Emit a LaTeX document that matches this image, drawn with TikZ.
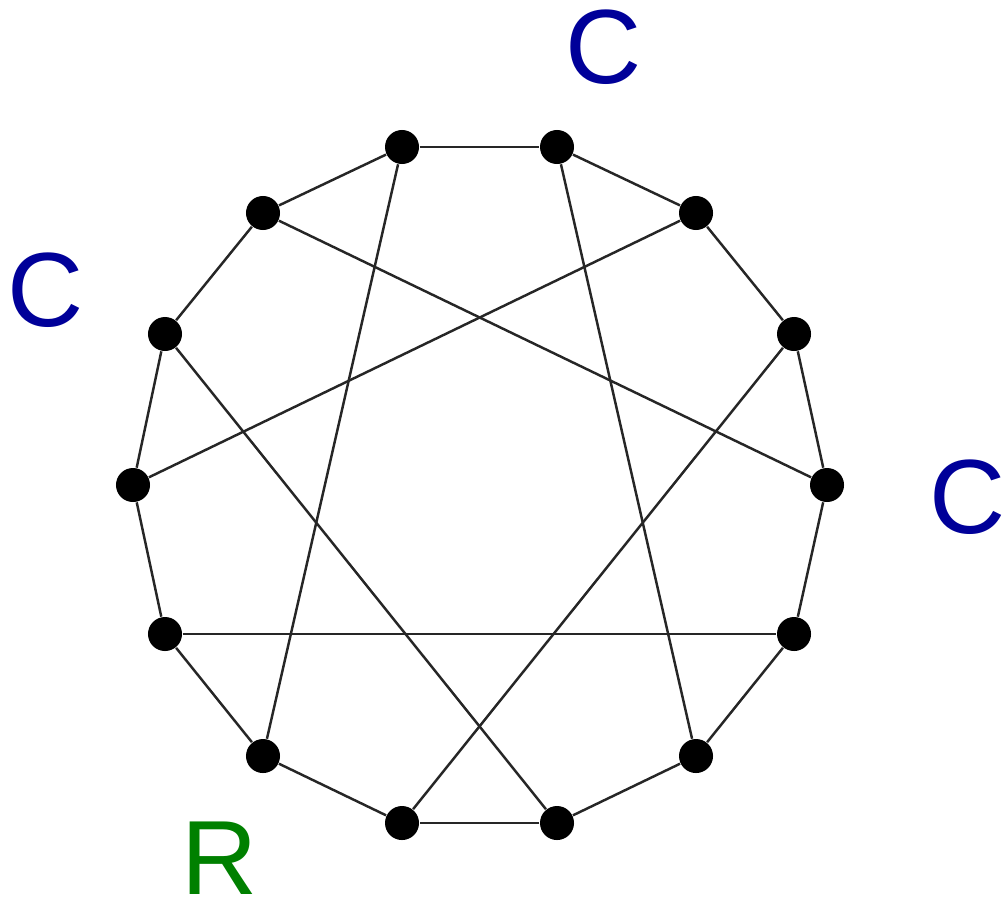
\documentclass[tikz,border=0pt]{standalone}
\usepackage{fontspec}
\setmainfont{Liberation Sans}
\definecolor{cblue}{RGB}{0,0,153}
\definecolor{rgreen}{RGB}{0,128,0}
\begin{document}
\begin{tikzpicture}[x=0.01cm,y=-0.01cm,
  vtx/.style={circle,fill=black,inner sep=0pt,minimum size=0.34cm},
  edge/.style={line width=0.7pt,draw=black!85},
  lab/.style={font=\fontsize{30}{32}\selectfont,inner sep=0pt}]
\useasboundingbox (0,0) rectangle (1004,903);
\node[vtx] (v1) at (402,147) {};
\node[vtx] (v2) at (557,147) {};
\node[vtx] (v3) at (696,213) {};
\node[vtx] (v4) at (794,334) {};
\node[vtx] (v5) at (827,485) {};
\node[vtx] (v6) at (794,634) {};
\node[vtx] (v7) at (696,756) {};
\node[vtx] (v8) at (557,823) {};
\node[vtx] (v9) at (402,823) {};
\node[vtx] (v10) at (263,756) {};
\node[vtx] (v11) at (165,634) {};
\node[vtx] (v12) at (133,485) {};
\node[vtx] (v13) at (165,334) {};
\node[vtx] (v14) at (263,213) {};
\foreach \a/\b in {v1/v2,v2/v3,v3/v4,v4/v5,v5/v6,v6/v7,v7/v8,v8/v9,v9/v10,v10/v11,v11/v12,v12/v13,v13/v14,v14/v1,
  v1/v10,v2/v7,v3/v12,v14/v5,v13/v8,v4/v9,v11/v6}
  \draw[edge] (\a) -- (\b);
\node[lab,text=cblue] (c1) at (604,47) {C};
\node[lab,text=cblue] (c2) at (46,290) {C};
\node[lab,text=cblue] (c3) at (968,497) {C};
\node[lab,text=rgreen] (r1) at (220,858) {R};
\end{tikzpicture}
\end{document}
